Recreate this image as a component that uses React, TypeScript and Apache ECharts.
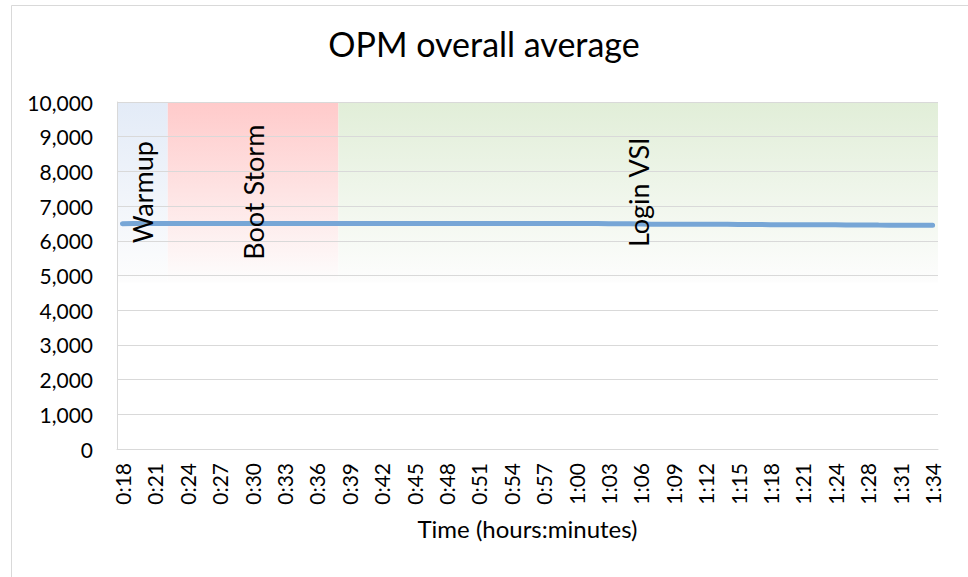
import React, { useEffect, useRef } from "react";
import * as echarts from "echarts";

const categories = [
  "0:18", "0:19", "0:20", "0:21", "0:22", "0:23", "0:24", "0:25", "0:26", "0:27",
  "0:28", "0:29", "0:30", "0:31", "0:32", "0:33", "0:34", "0:35", "0:36", "0:37",
  "0:38", "0:39", "0:40", "0:41", "0:42", "0:43", "0:44", "0:45", "0:46", "0:47",
  "0:48", "0:49", "0:50", "0:51", "0:52", "0:53", "0:54", "0:55", "0:56", "0:57",
  "0:58", "0:59", "1:00", "1:01", "1:02", "1:03", "1:04", "1:05", "1:06", "1:07",
  "1:08", "1:09", "1:10", "1:11", "1:12", "1:13", "1:14", "1:15", "1:16", "1:17",
  "1:18", "1:19", "1:20", "1:21", "1:22", "1:23", "1:24", "1:25", "1:27", "1:28",
  "1:29", "1:30", "1:31", "1:32", "1:33", "1:34",
];

const opm = [
  6490, 6495, 6495, 6495, 6495, 6495, 6495, 6495, 6495, 6495,
  6495, 6495, 6495, 6495, 6495, 6495, 6495, 6495, 6495, 6495,
  6495, 6495, 6495, 6495, 6495, 6495, 6495, 6495, 6495, 6495,
  6495, 6495, 6495, 6495, 6495, 6495, 6495, 6495, 6495, 6495,
  6495, 6495, 6495, 6495, 6495, 6490, 6490, 6490, 6485, 6480,
  6480, 6480, 6480, 6480, 6480, 6478, 6475, 6470, 6470, 6468,
  6466, 6465, 6465, 6465, 6465, 6462, 6460, 6458, 6455, 6455,
  6452, 6450, 6450, 6450, 6450, 6450,
];

const phaseNames = ["Warmup", "Boot Storm", "Login VSI"];
const phaseStart = [0, 4.7, 20.5];
const phaseEnd = [4.7, 20.5, 76];
const phaseColors = ["#e3ebf7", "#ffcaca", "#e1eed8"];
const phaseTop = 10000;
const phaseBottom = 4800;

const yTicks = { min: 0, max: 10000, interval: 1000 };

export default function App() {
  const ref = useRef<HTMLDivElement>(null);
  useEffect(() => {
    if (!ref.current) return;
    const chart = echarts.init(ref.current, null, { renderer: "svg" });
    const grad = (c: string) => ({
      type: "linear",
      x: 0,
      y: 0,
      x2: 0,
      y2: 1,
      colorStops: [
        { offset: 0, color: c },
        { offset: 1, color: "#fdfdfd" },
      ],
    });
    const bandData = (withLabel: boolean) =>
      phaseNames.map((n, i) => [
        {
          name: n,
          coord: [phaseStart[i], phaseTop],
          itemStyle: withLabel ? { color: "rgba(0,0,0,0)" } : { color: grad(phaseColors[i]) },
        },
        { coord: [phaseEnd[i], phaseBottom] },
      ]);
    chart.setOption({
      animation: false,
      backgroundColor: "#ffffff",
      textStyle: { fontFamily: "Lato" },
      title: {
        text: "OPM overall average",
        left: "center",
        top: 21,
        textStyle: { fontSize: 34, fontWeight: "normal", color: "#000", fontFamily: "Lato" },
      },
      grid: { left: 117, right: 30, top: 102, bottom: 128 },
      xAxis: [
        {
          type: "category",
          data: categories,
          boundaryGap: true,
          z: 2,
          axisLine: { lineStyle: { color: "#d9d9d9", width: 1 } },
          axisTick: { show: false },
          axisLabel: { interval: 2, rotate: 90, fontSize: 21, color: "#000", margin: 14, fontFamily: "Lato" },
          splitLine: { show: false },
          name: "Time (hours:minutes)",
          nameLocation: "middle",
          nameGap: 67,
          nameTextStyle: { fontSize: 24, color: "#000", fontFamily: "Lato" },
        },
        { type: "value", min: 0, max: categories.length, show: false },
      ],
      yAxis: {
        type: "value",
        min: yTicks.min,
        max: yTicks.max,
        interval: yTicks.interval,
        z: 2,
        axisLine: { show: true, lineStyle: { color: "#d9d9d9", width: 1 } },
        axisTick: { show: false },
        splitLine: { lineStyle: { color: "#d9d9d9", width: 1 } },
        axisLabel: {
          fontSize: 21,
          color: "#000",
          margin: 24,
          fontFamily: "Lato",
          formatter: (v: number) => v.toLocaleString("en-US"),
        },
      },
      series: [
        {
          type: "line",
          xAxisIndex: 1,
          data: [],
          silent: true,
          z: 0,
          markArea: { silent: true, z: 0, label: { show: false }, data: bandData(false) },
        },
        {
          type: "line",
          data: opm,
          symbol: "none",
          z: 3,
          lineStyle: { color: "#77a6d6", width: 5, cap: "round" },
          itemStyle: { color: "#77a6d6" },
        },
        {
          type: "line",
          xAxisIndex: 1,
          data: [],
          silent: true,
          z: 4,
          markArea: {
            silent: true,
            z: 4,
            label: {
              show: true,
              position: "inside",
              rotate: 90,
              fontSize: 27,
              color: "#000",
              fontFamily: "Lato",
            },
            data: bandData(true),
          },
        },
      ],
      graphic: [
        {
          type: "rect",
          left: 9,
          top: 3,
          silent: true,
          z: 10,
          shape: { width: 1000, height: 620 },
          style: { fill: "none", stroke: "#d9d9d9", lineWidth: 1 },
        },
      ],
    });
    return () => chart.dispose();
  }, []);
  return (
    <div
      ref={ref}
      style={{ position: "fixed", left: 0, top: 0, width: 968, height: 577 }}
    />
  );
}
